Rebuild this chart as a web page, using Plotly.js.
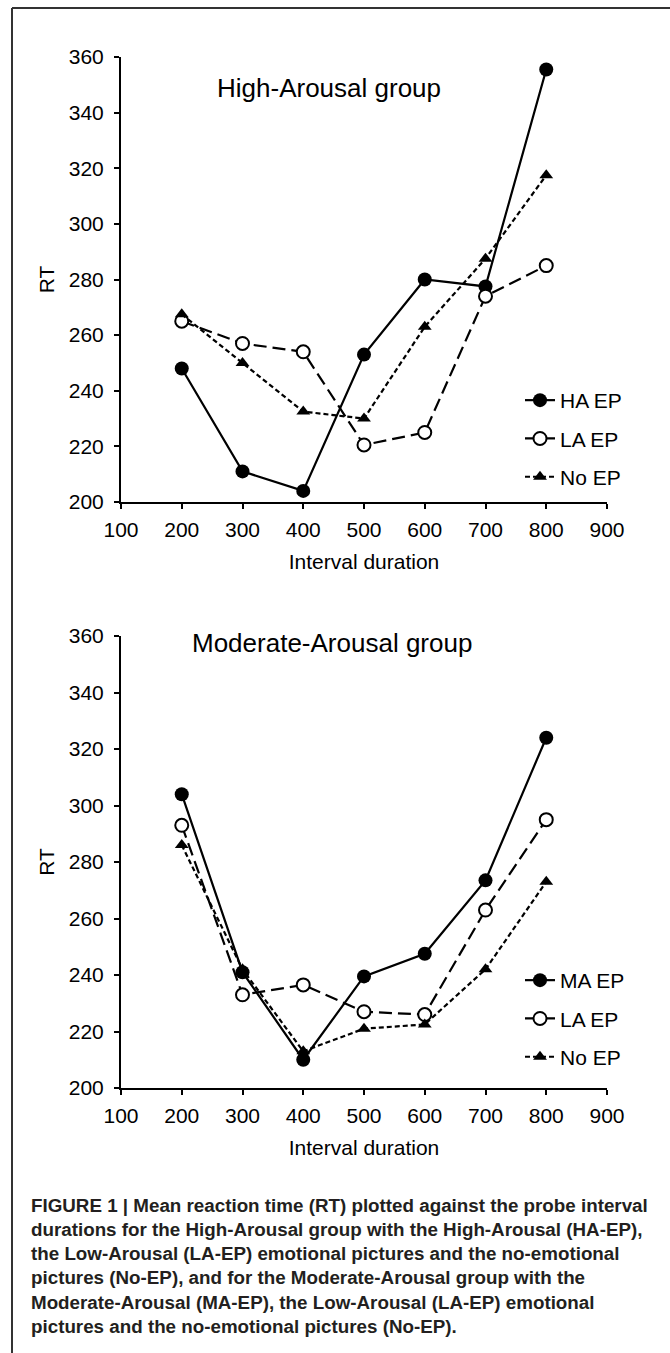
<!DOCTYPE html>
<html>
<head>
<meta charset="utf-8">
<script src="https://cdn.plot.ly/plotly-3.0.1.min.js"></script>
<style>
html,body{margin:0;padding:0;background:#fff;}
#chart{width:670px;height:1353px;}
</style>
</head>
<body>
<div id="chart"></div>
<script>
// ---- Data ----
const intervals = [200, 300, 400, 500, 600, 700, 800];

// High-Arousal group
const highHA = [248, 211, 204, 253, 280, 277.5, 355.5];
const highLA = [265, 257, 254, 220.5, 225, 274, 285];
const highNo = [267.5, 250, 232.5, 230, 263, 287.5, 317.5];

// Moderate-Arousal group
const modMA = [304, 241, 210, 239.5, 247.5, 273.5, 324];
const modLA = [293, 233, 236.5, 227, 226, 263, 295];
const modNo = [286, 242, 213, 221, 222.5, 242, 273];

const highNames = ["HA EP", "LA EP", "No EP"];
const modNames = ["MA EP", "LA EP", "No EP"];
const panelTitles = ["High-Arousal group", "Moderate-Arousal group"];
const xTitle = "Interval duration";
const yTitle = "RT";
const captionBold = "FIGURE 1 | ";
const captionLines = [
  "Mean reaction time (RT) plotted against the probe interval",
  "durations for the High-Arousal group with the High-Arousal (HA-EP),",
  "the Low-Arousal (LA-EP) emotional pictures and the no-emotional",
  "pictures (No-EP), and for the Moderate-Arousal group with the",
  "Moderate-Arousal (MA-EP), the Low-Arousal (LA-EP) emotional",
  "pictures and the no-emotional pictures (No-EP)."
];

// ---- Styling ----
const W = 670, H = 1353;
const FONT = "Liberation Sans, Arial, Helvetica, sans-serif";
const px = v => v / W;
const py = v => 1 - v / H;

const styles = [
  {dash: "solid", marker: {symbol: "circle", size: 14, color: "#000"}},
  {dash: "13px,6px", marker: {symbol: "circle", size: 13, color: "#fff", line: {color: "#000", width: 2}}},
  {dash: "5px,3px", marker: {symbol: "triangle-up", size: 12, color: "#000"}}
];

function mk(y, name, i, xa, ya, leg) {
  return {
    x: intervals, y: y, name: name, type: "scatter", mode: "lines+markers",
    xaxis: xa, yaxis: ya, legend: leg, legendgroup: leg + i,
    line: {color: "#000", width: 2.2, dash: styles[i].dash},
    marker: styles[i].marker, cliponaxis: false, hoverinfo: "skip"
  };
}

const traces = [
  mk(highHA, highNames[0], 0, "x", "y", "legend"),
  mk(highLA, highNames[1], 1, "x", "y", "legend"),
  mk(highNo, highNames[2], 2, "x", "y", "legend"),
  mk(modMA, modNames[0], 0, "x2", "y2", "legend2"),
  mk(modLA, modNames[1], 1, "x2", "y2", "legend2"),
  mk(modNo, modNames[2], 2, "x2", "y2", "legend2")
];

function xAxis(anchor) {
  return {
    domain: [px(121), px(607)], range: [100, 900], anchor: anchor,
    tickmode: "linear", tick0: 100, dtick: 100,
    showline: true, linecolor: "#000", linewidth: 2,
    ticks: "outside", ticklen: 5, tickwidth: 2, tickcolor: "#000",
    showgrid: false, zeroline: false,
    tickfont: {family: FONT, size: 21, color: "#000"},
    ticklabelstandoff: 3,
    title: {text: xTitle, font: {family: FONT, size: 21, color: "#000"}, standoff: 14}
  };
}
function yAxis(anchor, top, bottom) {
  return {
    domain: [py(bottom), py(top)], range: [200, 360], anchor: anchor,
    tickmode: "linear", tick0: 200, dtick: 20,
    showline: true, linecolor: "#000", linewidth: 2,
    ticks: "outside", ticklen: 5, tickwidth: 2, tickcolor: "#000",
    showgrid: false, zeroline: false,
    tickfont: {family: FONT, size: 21, color: "#000"},
    ticklabelstandoff: 6,
    title: {text: yTitle, font: {family: FONT, size: 21, color: "#000"}, standoff: 8}
  };
}

const annotations = [
  {text: panelTitles[0], xref: "paper", yref: "paper", x: px(215), y: py(88),
   xanchor: "left", yanchor: "middle", showarrow: false,
   font: {family: FONT, size: 26, color: "#000"}},
  {text: panelTitles[1], xref: "paper", yref: "paper", x: px(190), y: py(643),
   xanchor: "left", yanchor: "middle", showarrow: false,
   font: {family: FONT, size: 26, color: "#000"}}
];
captionLines.forEach((line, i) => {
  annotations.push({
    text: "<b>" + (i === 0 ? captionBold : "") + line + "</b>",
    xref: "paper", yref: "paper", x: px(29), y: py(1205 + 24.3 * i),
    xanchor: "left", yanchor: "middle", showarrow: false, align: "left",
    font: {family: FONT, size: 18.8, color: "#231f20"}
  });
});

const legendBase = {
  xanchor: "left", yanchor: "top", bgcolor: "rgba(0,0,0,0)", borderwidth: 0,
  font: {family: FONT, size: 21, color: "#000"}, tracegroupgap: 8, itemwidth: 30
};

const layout = {
  width: W, height: H, margin: {l: 0, r: 0, t: 0, b: 0},
  paper_bgcolor: "#fff", plot_bgcolor: "#fff",
  font: {family: FONT, color: "#000"},
  xaxis: xAxis("y"), yaxis: yAxis("x", 57, 502),
  xaxis2: xAxis("y2"), yaxis2: yAxis("x2", 636, 1088),
  legend: Object.assign({x: px(520), y: py(380)}, legendBase),
  legend2: Object.assign({x: px(520), y: py(960)}, legendBase),
  annotations: annotations,
  shapes: [
    {type: "line", xref: "paper", yref: "paper", x0: px(12), x1: 1, y0: py(8), y1: py(8),
     line: {color: "#333", width: 2}},
    {type: "line", xref: "paper", yref: "paper", x0: px(12), x1: px(12), y0: py(8), y1: 0,
     line: {color: "#333", width: 2}}
  ],
  showlegend: true
};

Plotly.newPlot("chart", traces, layout, {displayModeBar: false, staticPlot: true});
</script>
</body>
</html>
